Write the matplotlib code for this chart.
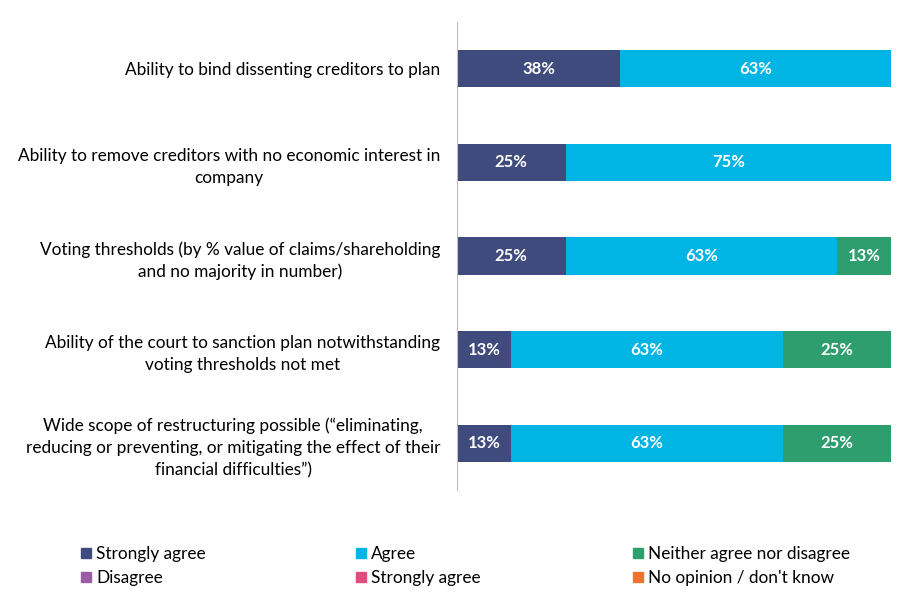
import matplotlib.pyplot as plt
import matplotlib.patches as mpatches
import numpy as np

plt.rcParams['font.family'] = ['Lato', 'DejaVu Sans']

categories = [
    "Ability to bind dissenting creditors to plan",
    "Ability to remove creditors with no economic interest in\ncompany",
    "Voting thresholds (by % value of claims/shareholding\nand no majority in number)",
    "Ability of the court to sanction plan notwithstanding\nvoting thresholds not met",
    "Wide scope of restructuring possible (\u201celiminating,\nreducing or preventing, or mitigating the effect of their\nfinancial difficulties\u201d)",
]
series_names = ["Strongly agree", "Agree", "Neither agree nor disagree",
                "Disagree", "Strongly agree", "No opinion / don't know"]
strongly_agree = [37.5, 25, 25, 12.5, 12.5]
agree = [62.5, 75, 62.5, 62.5, 62.5]
neither = [0, 0, 12.5, 25, 25]
disagree = [0, 0, 0, 0, 0]
strongly_disagree = [0, 0, 0, 0, 0]
no_opinion = [0, 0, 0, 0, 0]
colors = ["#3F4A7D", "#00B4E3", "#2E9E6E", "#9B5BA5", "#E04C7E", "#EC7330"]

data = [strongly_agree, agree, neither, disagree, strongly_disagree, no_opinion]

fig = plt.figure(figsize=(9.14, 5.92), dpi=100)
ax = fig.add_axes([0.5, 0.172, 0.475, 0.791])

y = np.arange(len(categories))
left = np.zeros(len(categories))
for vals, col in zip(data, colors):
    vals = np.array(vals, dtype=float)
    ax.barh(y, vals, left=left, height=0.4, color=col)
    for yi, l, v in zip(y, left, vals):
        if v > 0:
            ax.text(l + v / 2, yi, f"{int(v + 0.5)}%", ha='center', va='center',
                    color='white', fontweight='bold', fontsize=12)
    left += vals

ax.set_xlim(0, 100)
ax.set_ylim(len(categories) - 0.5, -0.5)
ax.set_yticks(y)
ax.set_yticklabels(categories, fontsize=12.4, ha='right', multialignment='center',
                   linespacing=1.45)
ax.tick_params(axis='y', length=0, pad=12)
ax.set_xticks([])
for s in ['top', 'right', 'bottom']:
    ax.spines[s].set_visible(False)
ax.spines['left'].set_color('#BFBFBF')

# legend entries placed one by one, like the original's 3x2 grid
handles = [mpatches.Patch(color=c, label=n) for c, n in zip(colors, series_names)]
col_x = [81, 356, 633]
row_y = [554, 578]
for i, h in enumerate(handles):
    cx = col_x[i % 3] / 914
    cy = 1 - row_y[i // 3] / 592
    fig.legend(handles=[h], loc='center left', bbox_to_anchor=(cx, cy),
               frameon=False, fontsize=12.4, handlelength=0.58, handleheight=0.58,
               handletextpad=0.3, borderaxespad=0, borderpad=0)

fig.savefig("out.png", dpi=100)
